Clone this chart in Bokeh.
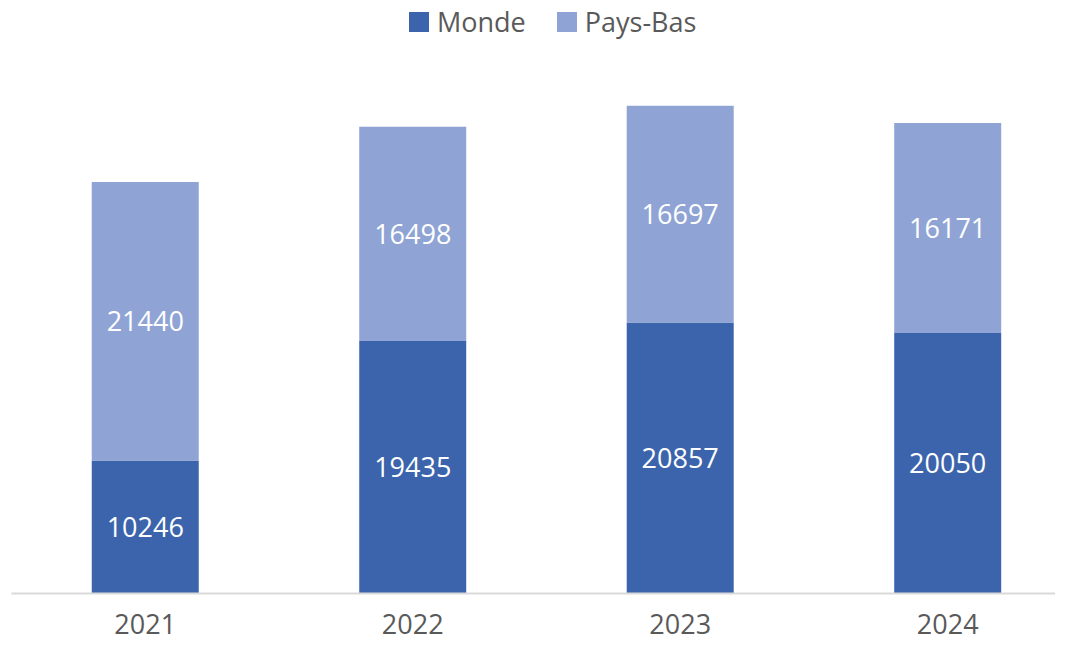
from bokeh.plotting import figure
from bokeh.models import ColumnDataSource, Range1d, FixedTicker, Legend, LegendItem, LabelSet
from bokeh.core.properties import value
from bokeh.embed import file_html
from bokeh.resources import INLINE

years = ["2021", "2022", "2023", "2024"]
monde = [10246, 19435, 20857, 20050]
pays_bas = [21440, 16498, 16697, 16171]

DARK = "#3C64AD"
LIGHT = "#8FA4D5"
FONT = "Open Sans"

xs = list(range(len(years)))
top1 = monde
top2 = [m + p for m, p in zip(monde, pays_bas)]
src = ColumnDataSource(dict(
    x=xs, top1=top1, top2=top2,
    zero=[0] * len(xs),
    y_lab1=[m / 2 for m in monde],
    y_lab2=[m + p / 2 for m, p in zip(monde, pays_bas)],
    t1=[str(v) for v in monde], t2=[str(v) for v in pays_bas],
))

p = figure(width=1055, height=645, output_backend="svg", toolbar_location=None,
           x_range=Range1d(-0.5, 3.403), y_range=Range1d(0, 45657),
           min_border_left=11, min_border_right=0, min_border_top=0, min_border_bottom=52)
p.outline_line_color = None
p.grid.visible = False
p.yaxis.visible = False

r1 = p.vbar(x="x", bottom="zero", top="top1", width=0.4, source=src,
            fill_color=DARK, line_color=None)
r2 = p.vbar(x="x", bottom="top1", top="top2", width=0.4, source=src,
            fill_color=LIGHT, line_color=None)

for ycol, tcol in (("y_lab1", "t1"), ("y_lab2", "t2")):
    p.add_layout(LabelSet(x="x", y=ycol, text=tcol, source=src,
                          text_align="center", text_baseline="middle",
                          text_color="white", text_font=value(FONT),
                          text_font_size="27px"))

ax = p.xaxis[0]
ax.ticker = FixedTicker(ticks=xs)
ax.major_label_overrides = {i: y for i, y in zip(xs, years)}
ax.major_tick_line_color = None
ax.minor_tick_line_color = None
ax.axis_line_color = "#D9D9D9"
ax.axis_line_width = 2
ax.major_label_text_font = FONT
ax.major_label_text_font_size = "27px"
ax.major_label_text_color = "#595959"
ax.major_label_standoff = 14

legend = Legend(items=[LegendItem(label="Monde", renderers=[r1]),
                       LegendItem(label="Pays-Bas", renderers=[r2])],
                orientation="horizontal", location=(395, 553),
                padding=0, margin=0, spacing=28, label_standoff=6,
                glyph_width=25, glyph_height=25, label_height=30,
                label_text_font=FONT, label_text_font_size="27px",
                label_text_color="#595959", border_line_color=None,
                background_fill_alpha=0)
p.add_layout(legend)

open("out.html", "w").write(file_html(p, INLINE))
